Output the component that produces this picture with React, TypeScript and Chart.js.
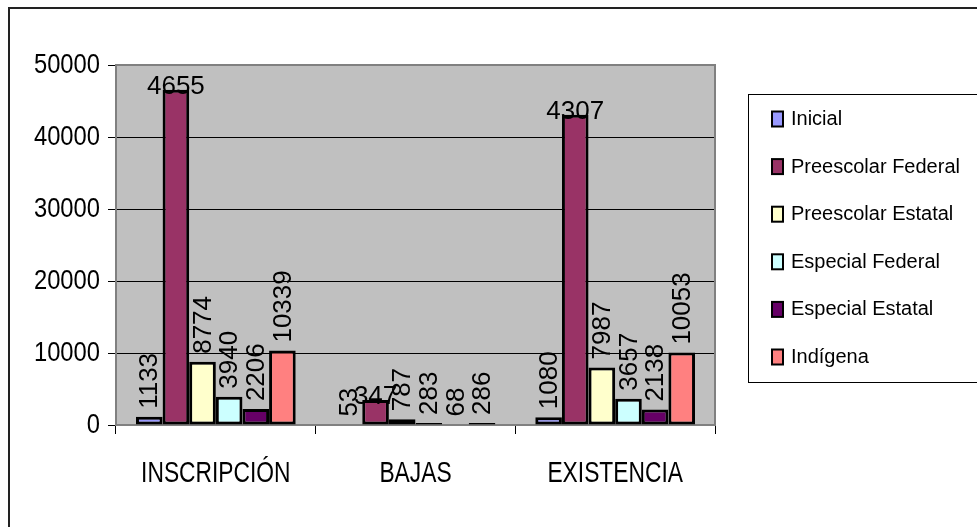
import React, { useEffect, useRef } from "react";
import { Chart, registerables } from "chart.js";

Chart.register(...registerables);

const categories = ["INSCRIPCIÓN", "BAJAS", "EXISTENCIA"];
const seriesNames = [
  "Inicial",
  "Preescolar Federal",
  "Preescolar Estatal",
  "Especial Federal",
  "Especial Estatal",
  "Indígena",
];
const inicial = [1133, 53, 1080];
const preescolarFederal = [46551, 3474, 43077];
const preescolarEstatal = [8774, 787, 7987];
const especialFederal = [3940, 283, 3657];
const especialEstatal = [2206, 68, 2138];
const indigena = [10339, 286, 10053];
// Preescolar Federal labels appear clipped in the original picture
const preescolarFederalLabels = ["4655", "347", "4307"];
const yMin = 0;
const yMax = 50000;
const yStep = 10000;

const colors = ["#9999FF", "#993366", "#FFFFCC", "#CCFFFF", "#660066", "#FF8080"];
const FONT = "'Liberation Sans', Arial, sans-serif";

export default function App() {
  const ref = useRef<HTMLCanvasElement | null>(null);

  useEffect(() => {
    const canvas = ref.current;
    if (!canvas) return;
    const values = [inicial, preescolarFederal, preescolarEstatal, especialFederal, especialEstatal, indigena];
    const labelTexts = values.map((v, i) =>
      i === 1 ? preescolarFederalLabels : v.map((n) => String(n))
    );
    const horizontal = [false, true, false, false, false, false];

    const framePlugin = {
      id: "frame",
      beforeDraw(chart: any) {
        const { ctx, chartArea: a } = chart;
        ctx.save();
        ctx.fillStyle = "#ffffff";
        ctx.fillRect(0, 0, chart.width, chart.height);
        ctx.strokeStyle = "#222222";
        ctx.lineWidth = 2;
        ctx.strokeRect(9, 8, chart.width + 20, chart.height + 20);
        ctx.fillStyle = "#C0C0C0";
        ctx.fillRect(a.left, a.top, a.right - a.left, a.bottom - a.top);
        ctx.restore();
      },
      beforeDatasetsDraw(chart: any) {
        const { ctx, chartArea: a } = chart;
        ctx.save();
        ctx.strokeStyle = "#808080";
        ctx.lineWidth = 2;
        ctx.strokeRect(a.left, a.top, a.right - a.left, a.bottom - a.top);
        ctx.restore();
      },
      afterDatasetsDraw(chart: any) {
        const { ctx } = chart;
        ctx.save();
        ctx.fillStyle = "#000000";
        ctx.font = `26px ${FONT}`;
        chart.data.datasets.forEach((ds: any, i: number) => {
          const meta = chart.getDatasetMeta(i);
          meta.data.forEach((el: any, j: number) => {
            const txt = labelTexts[i][j];
            if (horizontal[i]) {
              ctx.textAlign = "center";
              ctx.textBaseline = "alphabetic";
              ctx.fillText(txt, el.x, el.y + 4);
            } else {
              ctx.save();
              ctx.translate(el.x, el.y - 8);
              ctx.rotate(-Math.PI / 2);
              ctx.textAlign = "left";
              ctx.textBaseline = "middle";
              ctx.fillText(txt, 0, 1);
              ctx.restore();
            }
          });
        });
        ctx.restore();
      },
      afterDraw(chart: any) {
        const { ctx } = chart;
        ctx.save();
        ctx.fillStyle = "#000000";
        // category labels (tall, condensed)
        const xs = chart.scales.x;
        ctx.font = `30px ${FONT}`;
        ctx.textAlign = "center";
        ctx.textBaseline = "alphabetic";
        chart.data.labels.forEach((lab: string, i: number) => {
          const x = xs.getPixelForTick(i);
          ctx.save();
          ctx.translate(x, 482);
          ctx.scale(0.76, 1);
          ctx.fillText(lab, 0, 0);
          ctx.restore();
        });
        // value axis labels
        const ys = chart.scales.y;
        ctx.font = `27px ${FONT}`;
        ctx.textAlign = "right";
        ctx.textBaseline = "middle";
        ys.ticks.forEach((t: any) => {
          const y = ys.getPixelForValue(t.value);
          ctx.save();
          ctx.translate(100, y + 1);
          ctx.scale(0.88, 1);
          ctx.fillText(String(t.value), 0, 0);
          ctx.restore();
        });

        // legend
        const bx = 748;
        const by = 94;
        ctx.fillStyle = "#ffffff";
        ctx.fillRect(bx, by, 300, 288);
        ctx.strokeStyle = "#000000";
        ctx.lineWidth = 1;
        ctx.strokeRect(bx + 0.5, by + 0.5, 300, 288);
        ctx.font = `20px ${FONT}`;
        ctx.textAlign = "left";
        ctx.textBaseline = "middle";
        chart.data.datasets.forEach((ds: any, i: number) => {
          const cy = 118.5 + i * 47.6;
          ctx.fillStyle = ds.backgroundColor;
          ctx.fillRect(772, cy - 7, 11, 15);
          ctx.strokeStyle = "#000000";
          ctx.lineWidth = 2;
          ctx.strokeRect(772, cy - 7, 11, 15);
          ctx.fillStyle = "#000000";
          ctx.fillText(ds.label, 791, cy + 1);
        });
        ctx.restore();
      },
    };

    const chart = new Chart(canvas, {
      type: "bar",
      data: {
        labels: categories,
        datasets: seriesNames.map((name, i) => ({
          label: name,
          data: values[i],
          backgroundColor: colors[i],
          borderColor: "#000000",
          borderWidth: 3,
          borderSkipped: false,
          categoryPercentage: 0.8,
          barPercentage: 1.0,
        })),
      },
      options: {
        responsive: false,
        animation: false,
        layout: { padding: { left: 0, top: 65, right: 262, bottom: 0 } },
        plugins: {
          legend: { display: false },
          tooltip: { enabled: false },
        },
        scales: {
          x: {
            afterFit(scale: any) {
              scale.height = 102;
            },
            grid: {
              offset: true,
              drawOnChartArea: false,
              color: "#000000",
              tickColor: "#000000",
              tickLength: 9,
            },
            border: { display: true, color: "#808080", width: 2 },
            ticks: {
              display: false,
              autoSkip: false,
              maxRotation: 0,
            },
          },
          y: {
            min: yMin,
            max: yMax,
            afterFit(scale: any) {
              scale.width = 116;
            },
            grid: {
              color: (c: any) =>
                c.tick && (c.tick.value === yMin || c.tick.value === yMax) ? "rgba(0,0,0,0)" : "#000000",
              tickColor: "#000000",
              tickLength: 8,
            },
            border: { display: true, color: "#808080", width: 2 },
            ticks: {
              display: false,
              stepSize: yStep,
            },
          },
        },
      },
      plugins: [framePlugin],
    });
    return () => chart.destroy();
  }, []);

  return (
    <div style={{ position: "absolute", left: 0, top: 0, width: 977, height: 527 }}>
      <canvas ref={ref} width={977} height={527} style={{ display: "block" }} />
    </div>
  );
}
